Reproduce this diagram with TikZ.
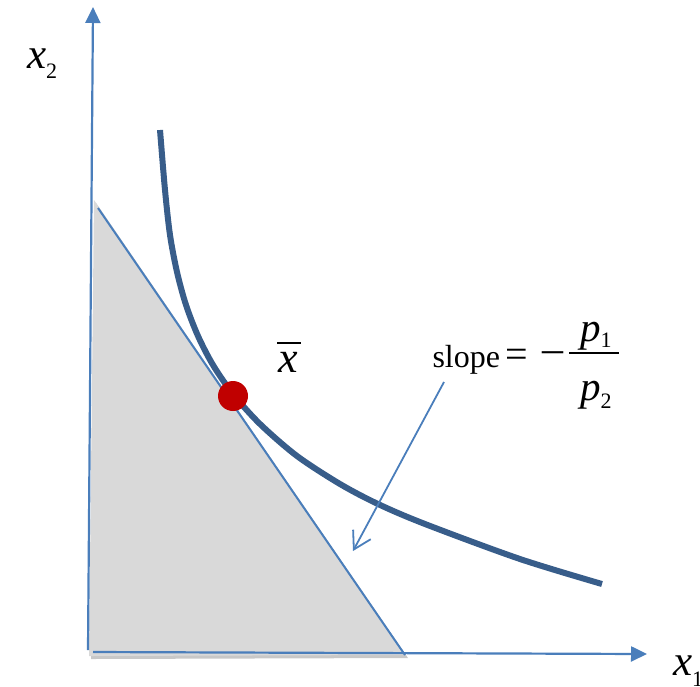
\documentclass[tikz,border=0pt]{standalone}
\usepackage{fontspec}
\setmainfont{Liberation Serif}
\usetikzlibrary{arrows.meta}
\definecolor{axisblue}{RGB}{74,126,187}
\definecolor{curveblue}{RGB}{56,93,138}
\definecolor{dotred}{RGB}{192,0,0}
\definecolor{regiongray}{RGB}{217,217,217}
\definecolor{shadowgray}{RGB}{200,200,200}
\begin{document}
\begin{tikzpicture}[x=1pt,y=-1pt,
  axis/.style={draw=axisblue, line width=2.2pt, -{Triangle[length=16pt,width=15pt]}},
  budget/.style={draw=axisblue, line width=2pt},
  indiff/.style={draw=curveblue, line width=6pt},
  pointer/.style={draw=axisblue, line width=1.8pt, -{Straight Barb[length=17pt,width=20pt]}},
  lbl/.style={anchor=base west, inner sep=0pt, outer sep=0pt, text=black}]
\useasboundingbox (0,0) rectangle (700,686);
\clip (0,0) rectangle (700,686);
% feasible region
\fill[shadowgray] (96,203) -- (91,659) -- (408,658) -- cycle;
\fill[regiongray] (94,200) -- (89,656) -- (405,655) -- cycle;
% axes
\coordinate (ybot) at (88,650);
\coordinate (ytop) at (93,7);
\coordinate (xleft) at (93,652);
\coordinate (xright) at (647,654);
\draw[axis] (ybot) -- (ytop);
\draw[axis] (xleft) -- (xright);
% budget line
\coordinate (bl1) at (98,208);
\coordinate (bl2) at (405,655);
\draw[budget] (bl1) -- (bl2);
% indifference curve
\draw[indiff] plot[smooth, tension=0.5] coordinates {(160,130) (165,190) (170,235) (177,272) (186,305) (198,336) (213,365) (233,394) (260,424) (297,456) (340,484) (378,504) (425,524) (520,559) (602,584)};
% optimum
\node[circle, fill=dotred, minimum size=30pt, inner sep=0pt] (opt) at (233,396) {};
% slope arrow
\coordinate (arrowstart) at (444,382);
\coordinate (arrowtip) at (353,551);
\draw[pointer] (arrowstart) -- (arrowtip);
% labels
\node[lbl] (x2) at (27,68) {\fontsize{43}{50}\selectfont\itshape x\raisebox{-10pt}{\fontsize{22}{24}\selectfont\upshape 2}};
\node[lbl] (x1) at (673,675) {\fontsize{43}{50}\selectfont\itshape x\raisebox{-11pt}{\fontsize{22}{24}\selectfont\upshape 1}};
\node[lbl] (xbar) at (278,372) {\fontsize{44}{50}\selectfont\itshape\rlap{\kern-1pt\raisebox{28.2pt}{\rule{24pt}{1.6pt}}}x};
\node[lbl] (slope) at (432.5,367) {\fontsize{32}{36}\selectfont slope};
\node[lbl] (eq) at (505.5,367) {\fontsize{40}{44}\selectfont =};
\node[lbl] (minus) at (542,362.5) {\fontsize{42}{46}\selectfont –};
\node[lbl] (num) at (580,341) {\fontsize{41}{46}\selectfont\itshape p\raisebox{-6pt}{\fontsize{22}{24}\selectfont\upshape 1}};
\node[lbl] (den) at (580,400) {\fontsize{41}{46}\selectfont\itshape p\raisebox{-8pt}{\fontsize{22}{24}\selectfont\upshape 2}};
\coordinate (fbl) at (569,353);
\coordinate (fbr) at (619,353);
\draw[black, line width=1.6pt] (fbl) -- (fbr);
\end{tikzpicture}
\end{document}
